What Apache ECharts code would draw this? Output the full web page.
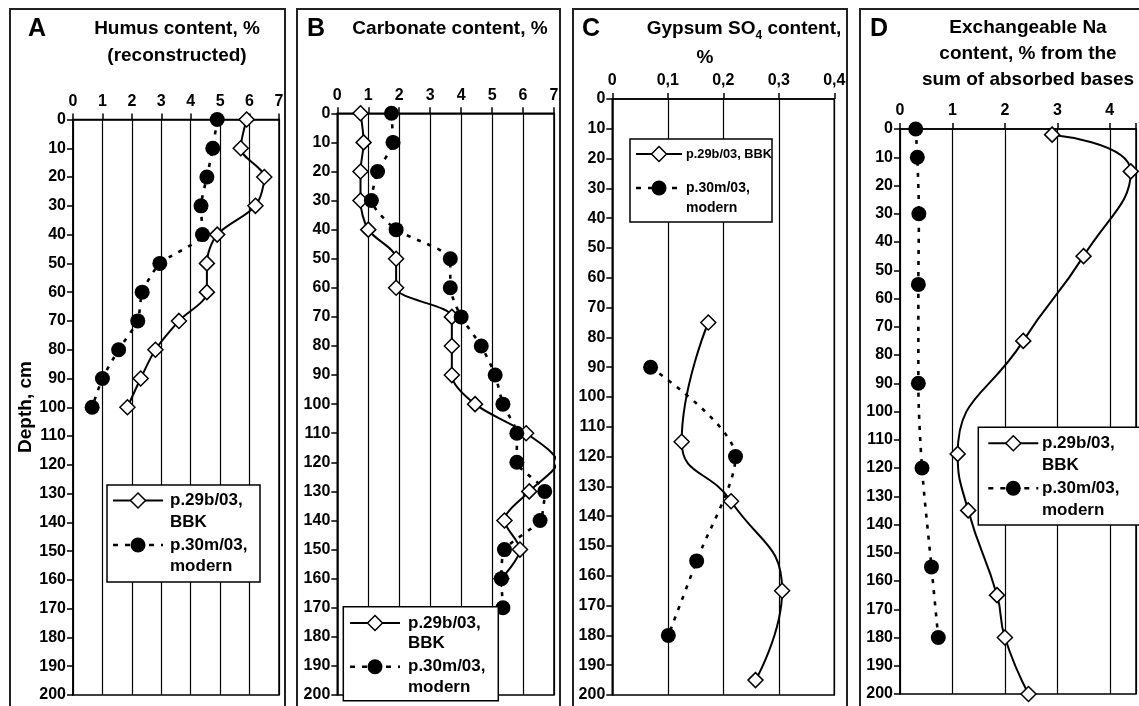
<!DOCTYPE html>
<html>
<head>
<meta charset="utf-8">
<script src="https://cdn.jsdelivr.net/npm/echarts@6/dist/echarts.min.js"></script>
<style>html,body{margin:0;padding:0;background:#fff}#c{width:1139px;height:706px}</style>
</head>
<body>
<div id="c"></div>
<script>
// ---------- data ----------
const NAME_BBK = 'p.29b/03, BBK';
const NAME_MOD = 'p.30m/03, modern';

// A: Humus content, % (reconstructed)
const humusDepthBBK = [0, 10, 20, 30, 40, 50, 60, 70, 80, 90, 100];
const humusBBK      = [5.9, 5.7, 6.5, 6.2, 4.9, 4.55, 4.55, 3.6, 2.8, 2.3, 1.85];
const humusDepthMod = [0, 10, 20, 30, 40, 50, 60, 70, 80, 90, 100];
const humusMod      = [4.9, 4.75, 4.55, 4.35, 4.4, 2.95, 2.35, 2.2, 1.55, 1.0, 0.65];

// B: Carbonate content, %
const carbDepthBBK = [0, 10, 20, 30, 40, 50, 60, 70, 80, 90, 100, 110, 120, 130, 140, 150, 160];
const carbBBK      = [0.75, 0.85, 0.75, 0.75, 1.0, 1.9, 1.9, 3.7, 3.7, 3.7, 4.45, 6.1, 7.1, 6.2, 5.4, 5.9, 5.3];
const carbDepthMod = [0, 10, 20, 30, 40, 50, 60, 70, 80, 90, 100, 110, 120, 130, 140, 150, 160, 170];
const carbMod      = [1.75, 1.8, 1.3, 1.1, 1.9, 3.65, 3.65, 4.0, 4.65, 5.1, 5.35, 5.8, 5.8, 6.7, 6.55, 5.4, 5.3, 5.35];

// C: Gypsum SO4 content, %
const gypDepthBBK = [75, 115, 135, 165, 195];
const gypBBK      = [0.173, 0.125, 0.214, 0.306, 0.258];
const gypDepthMod = [90, 120, 155, 180];
const gypMod      = [0.069, 0.222, 0.152, 0.101];

// D: Exchangeable Na content, % from the sum of absorbed bases
const naDepthBBK = [2, 15, 45, 75, 115, 135, 165, 180, 200];
const naBBK      = [2.9, 4.4, 3.5, 2.35, 1.1, 1.3, 1.85, 2.0, 2.45];
const naDepthMod = [0, 10, 30, 55, 90, 120, 155, 180];
const naMod      = [0.3, 0.33, 0.36, 0.35, 0.35, 0.42, 0.6, 0.73];

// axes
const depthMin = 0, depthMax = 200, depthStep = 10;
const xMax  = [7, 7, 0.4, 4.5];
const xStep = [1, 1, 0.1, 1];

// legend texts
const legendLinesBBK = ['p.29b/03,', 'BBK'];
const legendLinesMod = ['p.30m/03,', 'modern'];
const legendLinesBBKOneRow = ['p.29b/03, BBK'];

// ---------- layout / style ----------
const FONT = 'Liberation Sans';
const grids = [
  { left: 73,    top: 119.5, width: 206,   height: 575.5 },
  { left: 337.3, top: 113.3, width: 216.7, height: 581.7 },
  { left: 612.3, top: 99,    width: 222,   height: 596 },
  { left: 900,   top: 129,   width: 238,   height: 565 }
];
const BBK_LINE = { color: '#000', width: 2 };
const MOD_LINE = { color: '#000', width: 2.6, dash: [4, 7] };

function pts(xs, ds, max) {
  return xs.map((v, i) => v > max ? { value: [v, ds[i]], symbol: 'none' } : [v, ds[i]]);
}

function xAxisOf(i) {
  return {
    gridIndex: i, type: 'value', position: 'top', min: 0, max: xMax[i], interval: xStep[i],
    axisLine: { show: true, onZero: false, lineStyle: { color: '#000', width: 1.5 } },
    axisTick: { show: true, length: 6, lineStyle: { color: '#000', width: 1.5 } },
    axisLabel: {
      show: true, margin: 10, color: '#000', fontFamily: FONT, fontWeight: 'bold', fontSize: 16,
      formatter: function (v) {
        if (i === 2) return v === 0 ? '0' : v.toFixed(1).replace('.', ',');
        return Math.abs(v - Math.round(v)) < 1e-9 ? String(Math.round(v)) : '';
      }
    },
    splitLine: { show: true, lineStyle: { color: '#000', width: 1.2 } }
  };
}
function yAxisOf(i) {
  return {
    gridIndex: i, type: 'value', inverse: true, min: depthMin, max: depthMax, interval: depthStep,
    axisLine: { show: true, onZero: false, lineStyle: { color: '#000', width: 1.5 } },
    axisTick: { show: true, length: 6, lineStyle: { color: '#000', width: 1.5 } },
    axisLabel: { show: true, margin: 7, color: '#000', fontFamily: FONT, fontWeight: 'bold', fontSize: 16 },
    splitLine: { show: false }
  };
}
function bbkSeries(i, xs, ds, smooth) {
  return {
    name: NAME_BBK, type: 'line', xAxisIndex: i, yAxisIndex: i, data: pts(xs, ds, xMax[i]),
    smooth: smooth, clip: false, symbol: 'diamond', symbolSize: 15, z: 3,
    lineStyle: { color: BBK_LINE.color, width: BBK_LINE.width },
    itemStyle: { color: '#fff', borderColor: '#000', borderWidth: 1.5 },
    emphasis: { disabled: true }
  };
}
function modSeries(i, xs, ds, smooth) {
  return {
    name: NAME_MOD, type: 'line', xAxisIndex: i, yAxisIndex: i, data: pts(xs, ds, xMax[i]),
    smooth: smooth, clip: false, symbol: 'circle', symbolSize: 15, z: 4,
    lineStyle: { color: MOD_LINE.color, width: MOD_LINE.width, type: MOD_LINE.dash },
    itemStyle: { color: '#000', borderColor: '#000', borderWidth: 0 },
    emphasis: { disabled: true }
  };
}

// legend box drawn with graphic elements (icon line + symbol + multi-line text)
function legendBox(box, items, lh) {
  const els = [{ type: 'rect', shape: { x: box[0], y: box[1], width: box[2], height: box[3] },
    style: { fill: '#fff', stroke: '#000', lineWidth: 1.5 }, silent: true, z: 100 }];
  items.forEach(function (it) {
    const cx = (it.x0 + it.x1) / 2, cy = it.y;
    if (it.kind === 'bbk') {
      els.push({ type: 'line', shape: { x1: it.x0, y1: cy, x2: it.x1, y2: cy }, style: { stroke: BBK_LINE.color, lineWidth: BBK_LINE.width }, silent: true, z: 101 });
      els.push({ type: 'polygon', shape: { points: [[cx, cy - 7.5], [cx + 7.5, cy], [cx, cy + 7.5], [cx - 7.5, cy]] },
        style: { fill: '#fff', stroke: '#000', lineWidth: 1.5 }, silent: true, z: 102 });
    } else {
      els.push({ type: 'line', shape: { x1: it.x0, y1: cy, x2: it.x1, y2: cy }, style: { stroke: MOD_LINE.color, lineWidth: MOD_LINE.width, lineDash: [5, 7] }, silent: true, z: 101 });
      els.push({ type: 'circle', shape: { cx: cx, cy: cy, r: 7.5 }, style: { fill: '#000' }, silent: true, z: 102 });
    }
    it.lines.forEach(function (t, k) {
      els.push({ type: 'text', x: it.tx, y: cy + k * lh, silent: true, z: 103,
        style: { text: t, font: 'bold ' + it.fs + 'px "Liberation Sans"', fill: '#000', textAlign: 'left', textVerticalAlign: 'middle' } });
    });
  });
  return els;
}

const titleStyle = { fontFamily: FONT, fontWeight: 'bold', fontSize: 19, lineHeight: 27, color: '#000' };
const letterStyle = { fontFamily: FONT, fontWeight: 'bold', fontSize: 25, color: '#000' };
const frame = { fill: 'none', stroke: '#222', lineWidth: 2 };

const option = {
  animation: false,
  backgroundColor: '#fff',
  title: [
    { text: 'A', left: 28, top: 17, padding: 0, textStyle: letterStyle },
    { text: 'B', left: 307, top: 17, padding: 0, textStyle: letterStyle },
    { text: 'C', left: 582, top: 17, padding: 0, textStyle: letterStyle },
    { text: 'D', left: 870, top: 17, padding: 0, textStyle: letterStyle },
    { text: 'Humus content, %\n(reconstructed)', left: 177, top: 15, padding: 0, textAlign: 'center', textStyle: titleStyle },
    { text: 'Carbonate content, %', left: 450, top: 15, padding: 0, textAlign: 'center', textStyle: titleStyle },
    { text: 'Gypsum SO{sub|4} content,', left: 744, top: 15, padding: 0, textAlign: 'center',
      textStyle: Object.assign({}, titleStyle, { rich: { sub: { fontFamily: FONT, fontWeight: 'bold', fontSize: 12, lineHeight: 20, verticalAlign: 'bottom', color: '#000' } } }) },
    { text: '%', left: 705, top: 44, padding: 0, textAlign: 'center', textStyle: titleStyle },
    { text: 'Exchangeable Na\ncontent, % from the\nsum of absorbed bases', left: 1028, top: 15, padding: 0, textAlign: 'center',
      textStyle: Object.assign({}, titleStyle, { lineHeight: 26 }) }
  ],
  grid: grids.map(g => Object.assign({ show: true, borderColor: '#000', borderWidth: 1.5, backgroundColor: 'transparent' }, g)),
  xAxis: [0, 1, 2, 3].map(xAxisOf),
  yAxis: [0, 1, 2, 3].map(yAxisOf),
  graphic: [
    { type: 'rect', shape: { x: 10, y: 9, width: 275, height: 712 }, style: frame, silent: true, z: -10 },
    { type: 'rect', shape: { x: 297, y: 9, width: 263, height: 712 }, style: frame, silent: true, z: -10 },
    { type: 'rect', shape: { x: 573, y: 9, width: 274, height: 712 }, style: frame, silent: true, z: -10 },
    { type: 'rect', shape: { x: 860, y: 9, width: 300, height: 712 }, style: frame, silent: true, z: -10 },
    { type: 'text', x: 26, y: 407, rotation: Math.PI / 2, silent: true,
      style: { text: 'Depth, cm', font: 'bold 19px "Liberation Sans"', fill: '#000', textAlign: 'center', textVerticalAlign: 'middle' } }
  ].concat(
    legendBox([107, 485, 153, 97], [
      { kind: 'bbk', x0: 113, x1: 163, y: 500.5, tx: 170, fs: 17, lines: legendLinesBBK },
      { kind: 'mod', x0: 113, x1: 163, y: 545, tx: 170, fs: 17, lines: legendLinesMod }], 21.5),
    legendBox([343.3, 606.7, 155, 94], [
      { kind: 'bbk', x0: 350, x1: 400, y: 623, tx: 408, fs: 17, lines: legendLinesBBK },
      { kind: 'mod', x0: 350, x1: 400, y: 666.7, tx: 408, fs: 17, lines: legendLinesMod }], 20.5),
    legendBox([630, 139, 142, 83], [
      { kind: 'bbk', x0: 636, x1: 682, y: 154, tx: 686, fs: 12.8, lines: legendLinesBBKOneRow },
      { kind: 'mod', x0: 636, x1: 682, y: 188, tx: 686, fs: 14, lines: legendLinesMod }], 20),
    legendBox([978.3, 427.3, 165, 97.7], [
      { kind: 'bbk', x0: 988.3, x1: 1038.3, y: 443.3, tx: 1042, fs: 17, lines: legendLinesBBK },
      { kind: 'mod', x0: 988.3, x1: 1038.3, y: 488.3, tx: 1042, fs: 17, lines: legendLinesMod }], 21.7)
  ),
  series: [
    bbkSeries(0, humusBBK, humusDepthBBK, 0.3),
    modSeries(0, humusMod, humusDepthMod, 0.2),
    bbkSeries(1, carbBBK, carbDepthBBK, 0.3),
    modSeries(1, carbMod, carbDepthMod, 0.2),
    bbkSeries(2, gypBBK, gypDepthBBK, 0.5),
    modSeries(2, gypMod, gypDepthMod, 0.3),
    bbkSeries(3, naBBK, naDepthBBK, 0.5),
    modSeries(3, naMod, naDepthMod, 0.3)
  ]
};

const chart = echarts.init(document.getElementById('c'), null, { renderer: 'canvas' });
chart.setOption(option);
</script>
</body>
</html>
